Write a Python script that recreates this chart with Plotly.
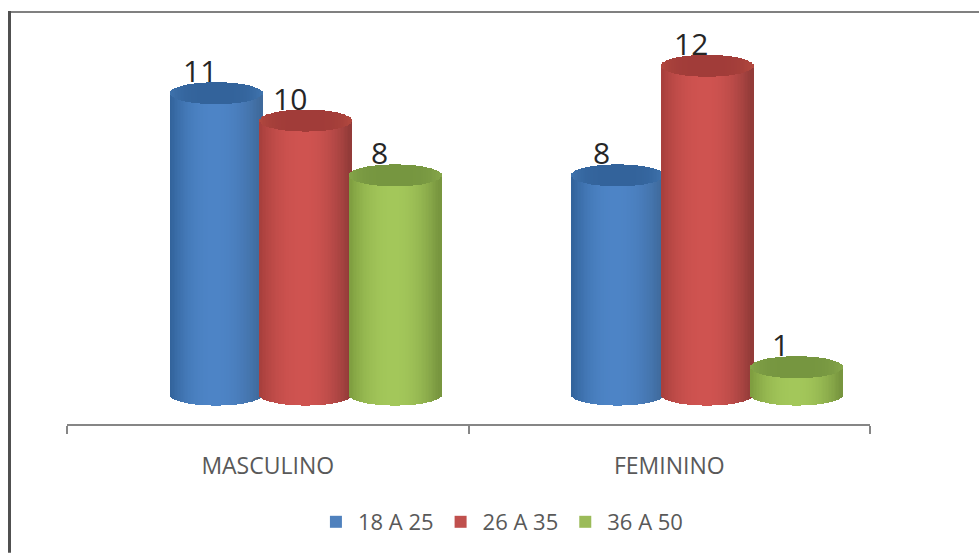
import plotly.graph_objects as go

categories = ["MASCULINO", "FEMININO"]
series_names = ["18 A 25", "26 A 35", "36 A 50"]
values_18_25 = [11, 8]
values_26_35 = [10, 12]
values_36_50 = [8, 1]
all_values = [values_18_25, values_26_35, values_36_50]

legend_colors = ["#4F81BD", "#C0504D", "#9BBB59"]
body_edge_l = ["#33649c", "#a8403d", "#7f9e40"]
body_mid = ["#4d84c6", "#cf5350", "#a3c75a"]
body_edge_r = ["#3f6a9c", "#933b39", "#78963f"]
top_mid = ["#33639b", "#a13c39", "#769640"]
top_edge = ["#3f74ae", "#b3493f", "#86a64a"]

W, H = 979, 554
M_L, M_R, M_T, M_B = 67, 109, 20, 129
PLOT_W = W - M_L - M_R

STRIPS = 64
HALF_W = 46 / (PLOT_W / 2)      # cylinder half width in axis units
HALF_H = 0.40                   # half height of the end ellipses in value units
STEP = 0.223                    # distance between neighbouring cylinders
SHIFT = 0.095                   # sideways offset of each cluster from its category centre


def hex_rgb(c):
    return tuple(int(c[i:i + 2], 16) for i in (1, 3, 5))


def mix(a, b, t):
    ra, rb = hex_rgb(a), hex_rgb(b)
    return "rgb(%d,%d,%d)" % tuple(round(p + (q - p) * t) for p, q in zip(ra, rb))


def body_color(j, u):
    if u < 0:
        return mix(body_mid[j], body_edge_l[j], min(1, (-u) ** 2.4 * 1.1))
    return mix(body_mid[j], body_edge_r[j], min(1, u ** 2 * 1.1))


fig = go.Figure()
seg = 2 * HALF_W / STRIPS
offsets = [-1 + (k + 0.5) * 2 / STRIPS for k in range(STRIPS)]
rounding = [(1 - u * u) ** 0.5 for u in offsets]

for j, (name, vals) in enumerate(zip(series_names, all_values)):
    for c, v in enumerate(vals):
        cx = c + 0.5 + SHIFT + (j - 1) * STEP
        xs = [cx + u * HALF_W for u in offsets]
        # cylinder wall: each strip is as tall as the value, following the curved base
        fig.add_trace(go.Bar(
            x=xs, y=[v] * STRIPS, base=[-HALF_H * r for r in rounding],
            width=seg * 1.35, showlegend=False, hoverinfo="skip",
            marker=dict(color=[body_color(j, u) for u in offsets], line_width=0),
        ))
        # cylinder cap
        fig.add_trace(go.Bar(
            x=xs, y=[2 * HALF_H * r for r in rounding],
            base=[v - HALF_H * r for r in rounding],
            width=seg * 1.35, showlegend=False, hoverinfo="skip",
            marker=dict(color=[mix(top_mid[j], top_edge[j], abs(u) ** 4) for u in offsets],
                        line_width=0),
        ))
        fig.add_annotation(
            x=cx, y=v, text=str(v), showarrow=False, xshift=-16, yshift=0,
            yanchor="bottom", font=dict(family="Open Sans", size=30, color="#262626"),
        )
    # swatch for the legend
    fig.add_trace(go.Bar(x=[None], y=[None], name=name,
                         marker=dict(color=legend_colors[j], line_width=0)))

# picture frame: dark rule along the top and left edges only
px = lambda p: (p - M_L) / PLOT_W
py = lambda p: 1 - (p - M_T) / (H - M_T - M_B)
fig.add_shape(type="line", xref="paper", yref="paper", layer="above",
              x0=px(10), x1=px(979), y0=py(12), y1=py(12),
              line=dict(color="#808080", width=2))
fig.add_shape(type="line", xref="paper", yref="paper", layer="above",
              x0=px(9.5), x1=px(9.5), y0=py(11), y1=py(554),
              line=dict(color="#505050", width=3))

fig.update_layout(
    width=W, height=H, autosize=False,
    margin=dict(l=M_L, r=M_R, t=M_T, b=M_B, pad=0),
    paper_bgcolor="white", plot_bgcolor="white",
    barmode="overlay", bargap=0,
    font=dict(family="Open Sans", color="#595959"),
    xaxis=dict(
        range=[0, 2], tickmode="array", tickvals=[0.5, 1.5], ticktext=categories,
        ticks="outside", ticklen=0, tickcolor="#868686", showgrid=False, zeroline=False,
        showline=True, linecolor="#868686", linewidth=1.5,
        tickfont=dict(family="Open Sans", size=23, color="#595959"),
        ticklabelstandoff=21,
        minor=dict(tickmode="array", tickvals=[0, 1, 2], ticks="outside",
                   ticklen=8, tickcolor="#868686", tickwidth=1.5, showgrid=False),
    ),
    yaxis=dict(range=[-1.074, 13.67], visible=False, showgrid=False, zeroline=False),
    showlegend=True,
    legend=dict(orientation="h", x=0.541, xanchor="center", y=-0.2395, yanchor="middle",
                font=dict(family="Open Sans", size=22, color="#595959"),
                itemwidth=34, bgcolor="rgba(0,0,0,0)", traceorder="normal"),
)

fig.write_html("out.html", config=dict(displayModeBar=False))
